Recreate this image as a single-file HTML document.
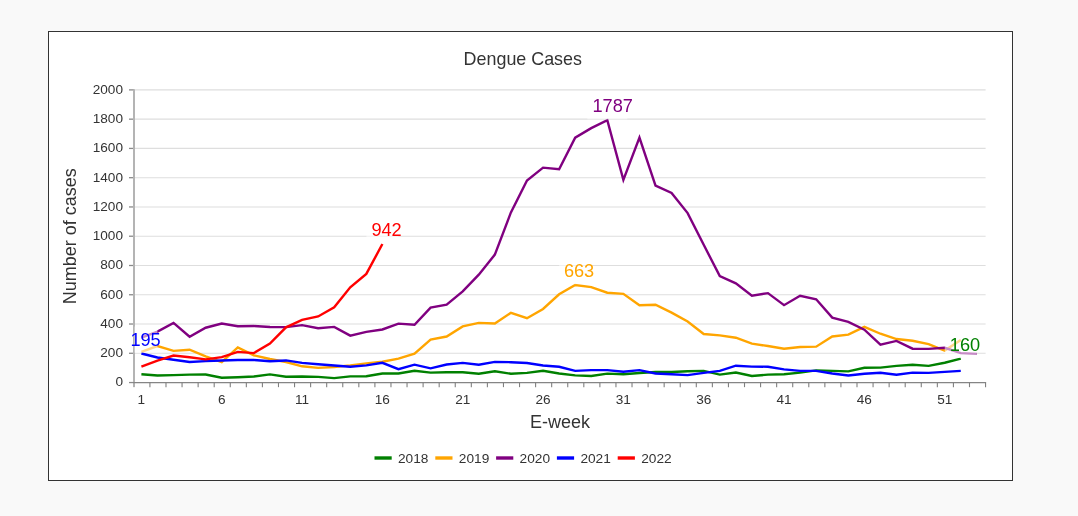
<!DOCTYPE html>
<html lang="en"><head><meta charset="utf-8"><title>Dengue Cases</title>
<style>
html,body{margin:0;padding:0;}
body{width:1078px;height:516px;background:#f9f9f9;overflow:hidden;position:relative;font-family:"Liberation Sans",sans-serif;}
#box{position:absolute;left:48px;top:31px;width:963px;height:448px;border:1px solid #333;background:#fff;}
svg{position:absolute;left:0;top:0;}
svg text{font-family:"Liberation Sans",sans-serif;}
</style></head><body>
<div id="box"></div>
<svg width="1078" height="516" viewBox="0 0 1078 516">

<g stroke="#dedede" stroke-width="1.1">
<line x1="134" y1="353.28" x2="985.6" y2="353.28"/>
<line x1="134" y1="324.02" x2="985.6" y2="324.02"/>
<line x1="134" y1="294.75" x2="985.6" y2="294.75"/>
<line x1="134" y1="265.49" x2="985.6" y2="265.49"/>
<line x1="134" y1="236.22" x2="985.6" y2="236.22"/>
<line x1="134" y1="206.95" x2="985.6" y2="206.95"/>
<line x1="134" y1="177.69" x2="985.6" y2="177.69"/>
<line x1="134" y1="148.42" x2="985.6" y2="148.42"/>
<line x1="134" y1="119.16" x2="985.6" y2="119.16"/>
<line x1="134" y1="89.89" x2="985.6" y2="89.89"/>
</g>
<g stroke="#8a8a8a" stroke-width="1.3">
<line x1="129" y1="382.55" x2="134" y2="382.55"/>
<line x1="129" y1="353.28" x2="134" y2="353.28"/>
<line x1="129" y1="324.02" x2="134" y2="324.02"/>
<line x1="129" y1="294.75" x2="134" y2="294.75"/>
<line x1="129" y1="265.49" x2="134" y2="265.49"/>
<line x1="129" y1="236.22" x2="134" y2="236.22"/>
<line x1="129" y1="206.95" x2="134" y2="206.95"/>
<line x1="129" y1="177.69" x2="134" y2="177.69"/>
<line x1="129" y1="148.42" x2="134" y2="148.42"/>
<line x1="129" y1="119.16" x2="134" y2="119.16"/>
<line x1="129" y1="89.89" x2="134" y2="89.89"/>
</g>
<rect x="133" y="89.29" width="2" height="297.86" fill="#b4b4b4"/>
<line x1="133" y1="382.70" x2="986.1" y2="382.70" stroke="#858585" stroke-width="1.3"/>
<g stroke="#808080" stroke-width="1.1">
<line x1="149.92" y1="382.55" x2="149.92" y2="387.15"/>
<line x1="165.99" y1="382.55" x2="165.99" y2="387.15"/>
<line x1="182.06" y1="382.55" x2="182.06" y2="387.15"/>
<line x1="198.13" y1="382.55" x2="198.13" y2="387.15"/>
<line x1="214.20" y1="382.55" x2="214.20" y2="387.15"/>
<line x1="230.27" y1="382.55" x2="230.27" y2="387.15"/>
<line x1="246.34" y1="382.55" x2="246.34" y2="387.15"/>
<line x1="262.41" y1="382.55" x2="262.41" y2="387.15"/>
<line x1="278.48" y1="382.55" x2="278.48" y2="387.15"/>
<line x1="294.55" y1="382.55" x2="294.55" y2="387.15"/>
<line x1="310.62" y1="382.55" x2="310.62" y2="387.15"/>
<line x1="326.69" y1="382.55" x2="326.69" y2="387.15"/>
<line x1="342.76" y1="382.55" x2="342.76" y2="387.15"/>
<line x1="358.83" y1="382.55" x2="358.83" y2="387.15"/>
<line x1="374.90" y1="382.55" x2="374.90" y2="387.15"/>
<line x1="390.97" y1="382.55" x2="390.97" y2="387.15"/>
<line x1="407.04" y1="382.55" x2="407.04" y2="387.15"/>
<line x1="423.11" y1="382.55" x2="423.11" y2="387.15"/>
<line x1="439.18" y1="382.55" x2="439.18" y2="387.15"/>
<line x1="455.25" y1="382.55" x2="455.25" y2="387.15"/>
<line x1="471.32" y1="382.55" x2="471.32" y2="387.15"/>
<line x1="487.39" y1="382.55" x2="487.39" y2="387.15"/>
<line x1="503.46" y1="382.55" x2="503.46" y2="387.15"/>
<line x1="519.53" y1="382.55" x2="519.53" y2="387.15"/>
<line x1="535.60" y1="382.55" x2="535.60" y2="387.15"/>
<line x1="551.67" y1="382.55" x2="551.67" y2="387.15"/>
<line x1="567.74" y1="382.55" x2="567.74" y2="387.15"/>
<line x1="583.81" y1="382.55" x2="583.81" y2="387.15"/>
<line x1="599.88" y1="382.55" x2="599.88" y2="387.15"/>
<line x1="615.95" y1="382.55" x2="615.95" y2="387.15"/>
<line x1="632.02" y1="382.55" x2="632.02" y2="387.15"/>
<line x1="648.09" y1="382.55" x2="648.09" y2="387.15"/>
<line x1="664.16" y1="382.55" x2="664.16" y2="387.15"/>
<line x1="680.23" y1="382.55" x2="680.23" y2="387.15"/>
<line x1="696.30" y1="382.55" x2="696.30" y2="387.15"/>
<line x1="712.37" y1="382.55" x2="712.37" y2="387.15"/>
<line x1="728.44" y1="382.55" x2="728.44" y2="387.15"/>
<line x1="744.51" y1="382.55" x2="744.51" y2="387.15"/>
<line x1="760.58" y1="382.55" x2="760.58" y2="387.15"/>
<line x1="776.65" y1="382.55" x2="776.65" y2="387.15"/>
<line x1="792.72" y1="382.55" x2="792.72" y2="387.15"/>
<line x1="808.79" y1="382.55" x2="808.79" y2="387.15"/>
<line x1="824.86" y1="382.55" x2="824.86" y2="387.15"/>
<line x1="840.93" y1="382.55" x2="840.93" y2="387.15"/>
<line x1="857.00" y1="382.55" x2="857.00" y2="387.15"/>
<line x1="873.07" y1="382.55" x2="873.07" y2="387.15"/>
<line x1="889.14" y1="382.55" x2="889.14" y2="387.15"/>
<line x1="905.21" y1="382.55" x2="905.21" y2="387.15"/>
<line x1="921.28" y1="382.55" x2="921.28" y2="387.15"/>
<line x1="937.35" y1="382.55" x2="937.35" y2="387.15"/>
<line x1="953.42" y1="382.55" x2="953.42" y2="387.15"/>
<line x1="969.49" y1="382.55" x2="969.49" y2="387.15"/>
<line x1="985.56" y1="382.55" x2="985.56" y2="387.15"/>
</g>
<g font-size="13.6" fill="#333">
<text x="123" y="386.45" text-anchor="end">0</text>
<text x="123" y="357.18" text-anchor="end">200</text>
<text x="123" y="327.92" text-anchor="end">400</text>
<text x="123" y="298.65" text-anchor="end">600</text>
<text x="123" y="269.39" text-anchor="end">800</text>
<text x="123" y="240.12" text-anchor="end">1000</text>
<text x="123" y="210.85" text-anchor="end">1200</text>
<text x="123" y="181.59" text-anchor="end">1400</text>
<text x="123" y="152.32" text-anchor="end">1600</text>
<text x="123" y="123.06" text-anchor="end">1800</text>
<text x="123" y="93.79" text-anchor="end">2000</text>
<text x="141.40" y="404.4" text-anchor="middle">1</text>
<text x="221.73" y="404.4" text-anchor="middle">6</text>
<text x="302.06" y="404.4" text-anchor="middle">11</text>
<text x="382.39" y="404.4" text-anchor="middle">16</text>
<text x="462.72" y="404.4" text-anchor="middle">21</text>
<text x="543.05" y="404.4" text-anchor="middle">26</text>
<text x="623.38" y="404.4" text-anchor="middle">31</text>
<text x="703.71" y="404.4" text-anchor="middle">36</text>
<text x="784.04" y="404.4" text-anchor="middle">41</text>
<text x="864.37" y="404.4" text-anchor="middle">46</text>
<text x="944.70" y="404.4" text-anchor="middle">51</text>
</g>
<text x="522.8" y="64.8" font-size="17.9" fill="#333" text-anchor="middle">Dengue Cases</text>
<text x="560" y="428" font-size="18" fill="#333" text-anchor="middle">E-week</text>
<text transform="translate(76.2,236.2) rotate(-90)" font-size="18" fill="#333" text-anchor="middle">Number of cases</text>
<polyline points="141.40,374.20 157.47,375.52 173.53,375.08 189.60,374.64 205.66,374.50 221.73,377.72 237.80,377.28 253.86,376.55 269.93,374.35 285.99,376.70 302.06,376.55 318.13,376.84 334.19,378.16 350.26,376.40 366.32,376.26 382.39,373.47 398.46,373.47 414.52,370.83 430.59,372.59 446.65,372.30 462.72,372.30 478.79,373.76 494.85,371.27 510.92,373.76 526.98,372.89 543.05,370.83 559.12,373.47 575.18,375.38 591.25,375.96 607.31,373.62 623.38,374.20 639.45,373.03 655.51,372.01 671.58,372.01 687.64,371.27 703.71,370.83 719.78,374.64 735.84,372.59 751.91,375.96 767.97,374.64 784.04,374.20 800.11,372.59 816.17,370.39 832.24,370.83 848.30,371.42 864.37,367.76 880.44,367.61 896.50,365.85 912.57,364.68 928.63,365.85 944.70,362.77 960.77,358.67" fill="none" stroke="#008000" stroke-width="2.4" stroke-linejoin="miter" stroke-linecap="butt"/>
<polyline points="141.40,351.92 157.47,346.06 173.53,350.90 189.60,349.73 205.66,356.32 221.73,362.19 237.80,347.38 253.86,355.30 269.93,358.96 285.99,362.04 302.06,366.29 318.13,367.90 334.19,367.02 350.26,365.41 366.32,363.36 382.39,361.75 398.46,358.67 414.52,353.68 430.59,339.61 446.65,336.53 462.72,326.42 478.79,322.90 494.85,323.49 510.92,312.79 526.98,318.21 543.05,308.98 559.12,294.32 575.18,284.94 591.25,287.14 607.31,292.71 623.38,293.88 639.45,305.17 655.51,304.73 671.58,312.64 687.64,321.44 703.71,334.04 719.78,335.36 735.84,337.71 751.91,343.57 767.97,346.06 784.04,348.70 800.11,346.94 816.17,346.65 832.24,336.53 848.30,334.63 864.37,326.86 880.44,333.75 896.50,339.03 912.57,340.78 928.63,344.16 944.70,350.61 960.77,339.90" fill="none" stroke="#ffa500" stroke-width="2.4" stroke-linejoin="miter" stroke-linecap="butt"/>
<polyline points="141.40,337.71 157.47,331.55 173.53,322.90 189.60,336.68 205.66,327.74 221.73,323.49 237.80,326.27 253.86,325.98 269.93,327.01 285.99,327.15 302.06,325.10 318.13,328.18 334.19,326.86 350.26,335.65 366.32,331.84 382.39,329.50 398.46,323.63 414.52,324.81 430.59,307.66 446.65,304.58 462.72,291.39 478.79,274.68 494.85,254.60 510.92,212.38 526.98,180.57 543.05,167.67 559.12,169.29 575.18,137.62 591.25,128.10 607.31,120.18 623.38,179.84 639.45,137.62 655.51,185.56 671.58,192.89 687.64,213.11 703.71,244.77 719.78,276.14 735.84,283.33 751.91,295.64 767.97,293.15 784.04,305.17 800.11,295.78 816.17,299.30 832.24,317.62 848.30,321.88 864.37,329.64 880.44,344.60 896.50,340.93 912.57,348.70 928.63,348.85 944.70,347.82 960.77,353.10 976.83,353.83" fill="none" stroke="#800080" stroke-width="2.4" stroke-linejoin="miter" stroke-linecap="butt"/>
<polyline points="141.40,353.54 157.47,357.49 173.53,359.69 189.60,362.04 205.66,361.16 221.73,360.43 237.80,359.99 253.86,359.99 269.93,361.31 285.99,360.43 302.06,362.92 318.13,364.24 334.19,365.56 350.26,366.73 366.32,365.41 382.39,362.77 398.46,369.22 414.52,364.68 430.59,368.34 446.65,364.53 462.72,362.92 478.79,364.68 494.85,361.89 510.92,362.19 526.98,363.06 543.05,365.56 559.12,366.73 575.18,370.83 591.25,370.10 607.31,370.10 623.38,371.71 639.45,370.10 655.51,373.47 671.58,374.20 687.64,375.08 703.71,372.89 719.78,370.83 735.84,365.70 751.91,366.58 767.97,366.73 784.04,369.37 800.11,370.83 816.17,370.83 832.24,373.47 848.30,375.52 864.37,373.76 880.44,372.74 896.50,374.79 912.57,372.59 928.63,372.89 944.70,371.86 960.77,370.83" fill="none" stroke="#0000ff" stroke-width="2.4" stroke-linejoin="miter" stroke-linecap="butt"/>
<polyline points="141.40,366.58 157.47,360.57 173.53,355.59 189.60,357.20 205.66,359.40 221.73,357.20 237.80,351.92 253.86,353.10 269.93,343.57 285.99,327.30 302.06,319.82 318.13,316.45 334.19,307.22 350.26,287.28 366.32,273.94 382.39,244.04" fill="none" stroke="#ff0000" stroke-width="2.4" stroke-linejoin="miter" stroke-linecap="butt"/>
<rect x="944.77" y="331.67" width="32.00" height="26.2" fill="#fff" fill-opacity="0.55"/>
<text x="949.87" y="350.92" font-size="18.2" fill="#008000">160</text>
<rect x="559.18" y="257.94" width="32.00" height="26.2" fill="#fff" fill-opacity="0.55"/>
<text x="563.88" y="277.04" font-size="18.2" fill="#ffa500">663</text>
<rect x="587.31" y="93.18" width="40.00" height="26.2" fill="#fff" fill-opacity="0.55"/>
<text x="592.51" y="111.63" font-size="18.2" fill="#800080">1787</text>
<rect x="134.50" y="326.54" width="22.90" height="26.2" fill="#fff" fill-opacity="0.55"/>
<text x="130.40" y="346.14" font-size="18.2" fill="#0000ff">195</text>
<rect x="366.39" y="217.04" width="32.00" height="26.2" fill="#fff" fill-opacity="0.55"/>
<text x="371.39" y="236.24" font-size="18.2" fill="#ff0000">942</text>
<line x1="374.50" y1="458" x2="391.70" y2="458" stroke="#008000" stroke-width="3.4"/>
<text x="398.00" y="462.7" font-size="13.7" fill="#333">2018</text>
<line x1="435.30" y1="458" x2="452.50" y2="458" stroke="#ffa500" stroke-width="3.4"/>
<text x="458.80" y="462.7" font-size="13.7" fill="#333">2019</text>
<line x1="496.10" y1="458" x2="513.30" y2="458" stroke="#800080" stroke-width="3.4"/>
<text x="519.60" y="462.7" font-size="13.7" fill="#333">2020</text>
<line x1="556.90" y1="458" x2="574.10" y2="458" stroke="#0000ff" stroke-width="3.4"/>
<text x="580.40" y="462.7" font-size="13.7" fill="#333">2021</text>
<line x1="617.70" y1="458" x2="634.90" y2="458" stroke="#ff0000" stroke-width="3.4"/>
<text x="641.20" y="462.7" font-size="13.7" fill="#333">2022</text>
</svg>
</body></html>
